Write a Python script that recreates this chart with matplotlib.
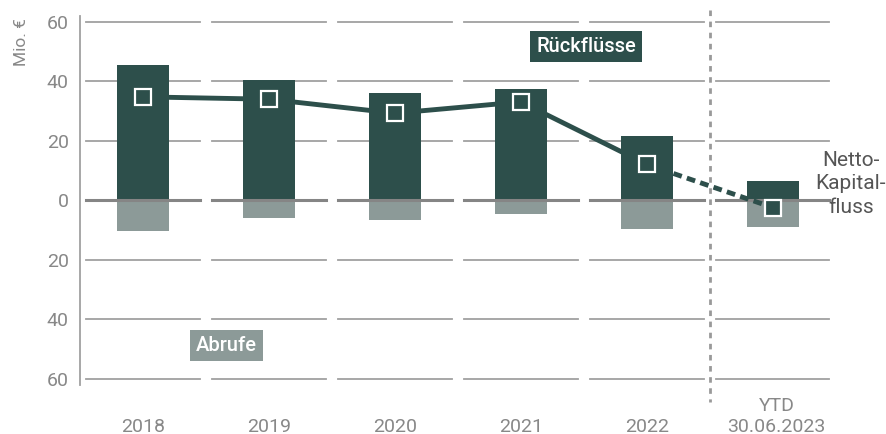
import matplotlib
matplotlib.use("Agg")
import matplotlib.pyplot as plt
import matplotlib.transforms as mtransforms
import numpy as np

plt.rcParams['font.family'] = ['Roboto', 'DejaVu Sans']

# values in Mio. EUR
years = ["2018", "2019", "2020", "2021", "2022", "YTD\n30.06.2023"]
rueckfluesse = [45.3, 40.3, 36.0, 37.2, 21.5, 6.4]
abrufe = [10.4, 6.0, 6.7, 4.7, 9.7, 9.0]
netto = [34.7, 33.9, 29.2, 33.0, 12.0, -2.5]
yticks = [60, 40, 20, 0, -20, -40, -60]

dark = "#2d4f4b"
light = "#8c9a98"
grid_c = "#a0a0a0"
tick_c = "#888888"

fig = plt.figure(figsize=(8.86, 4.34), dpi=100)
ax = fig.add_axes([0.0903, 0.114, 0.853, 0.850])

x = np.arange(len(years))
half = 0.45

# segmented grid lines per category
for xi in x:
    for yv in yticks:
        if yv == 0:
            continue
        ax.plot([xi - half, xi + half], [yv, yv], color=grid_c, lw=1.3, zorder=1)

ax.bar(x, rueckfluesse, width=0.41, color=dark, zorder=2)
ax.bar(x, [-a for a in abrufe], width=0.41, color=light, zorder=2)

# zero line, also segmented
for xi in x:
    ax.plot([xi - half, xi + half], [0, 0], color="#858585", lw=2.2, zorder=3)

# net line: solid for full years, dashed towards YTD
ax.plot(x[:5], netto[:5], color=dark, lw=3.5, zorder=4, solid_capstyle='butt')
ax.plot(x[4:], netto[4:], color=dark, lw=3.5, zorder=4, linestyle=(0, (1.8, 1.1)))
ax.plot(x, netto, linestyle='none', marker='s', markersize=11.5,
        markerfacecolor=dark, markeredgecolor='white', markeredgewidth=1.6, zorder=5)

# separator before YTD
ax.plot([4.5, 4.5], [63.9, -68], color="#999999", lw=2, linestyle=(0, (2, 2)),
        clip_on=False, zorder=1)

ax.text(3.52, 51.5, "Rückflüsse", color="white", fontsize=14.5, fontweight='medium',
        ha='center', va='center',
        bbox=dict(boxstyle='square,pad=0.3', facecolor=dark, edgecolor='none'), zorder=6)
ax.text(0.66, -49, "Abrufe", color="white", fontsize=14.5, fontweight='medium',
        ha='center', va='center',
        bbox=dict(boxstyle='square,pad=0.3', facecolor=light, edgecolor='none'), zorder=6)
ax.text(5.62, 5.5, "Netto-\nKapital-\nfluss", color="#555555", fontsize=15,
        ha='center', va='center', linespacing=1.3, clip_on=False)

ax.set_xlim(-0.5, 5.5)
ax.set_ylim(-62, 62)
ax.set_xticks(x)
ax.set_xticklabels([])
trans = mtransforms.blended_transform_factory(ax.transData, fig.transFigure)
for xi, lab in zip(x, years):
    ax.text(xi + (0.03 if "\n" in lab else 0), -0.004, lab, transform=trans,
            color=tick_c, fontsize=14, ha='center', va='bottom',
            linespacing=1.2, multialignment='center')
ax.set_yticks(yticks)
ax.set_yticklabels([str(abs(v)) for v in yticks], color=tick_c, fontsize=14)
ax.tick_params(axis='both', length=0)
ax.tick_params(axis='y', pad=8)

for s in ['top', 'right', 'bottom']:
    ax.spines[s].set_visible(False)
ax.spines['left'].set_color("#a0a0a0")
ax.spines['left'].set_linewidth(1.3)

fig.text(0.024, 0.903, "Mio. €", rotation=90, color=tick_c, fontsize=12.5,
         ha='center', va='center')

fig.savefig("out.png", dpi=100)
